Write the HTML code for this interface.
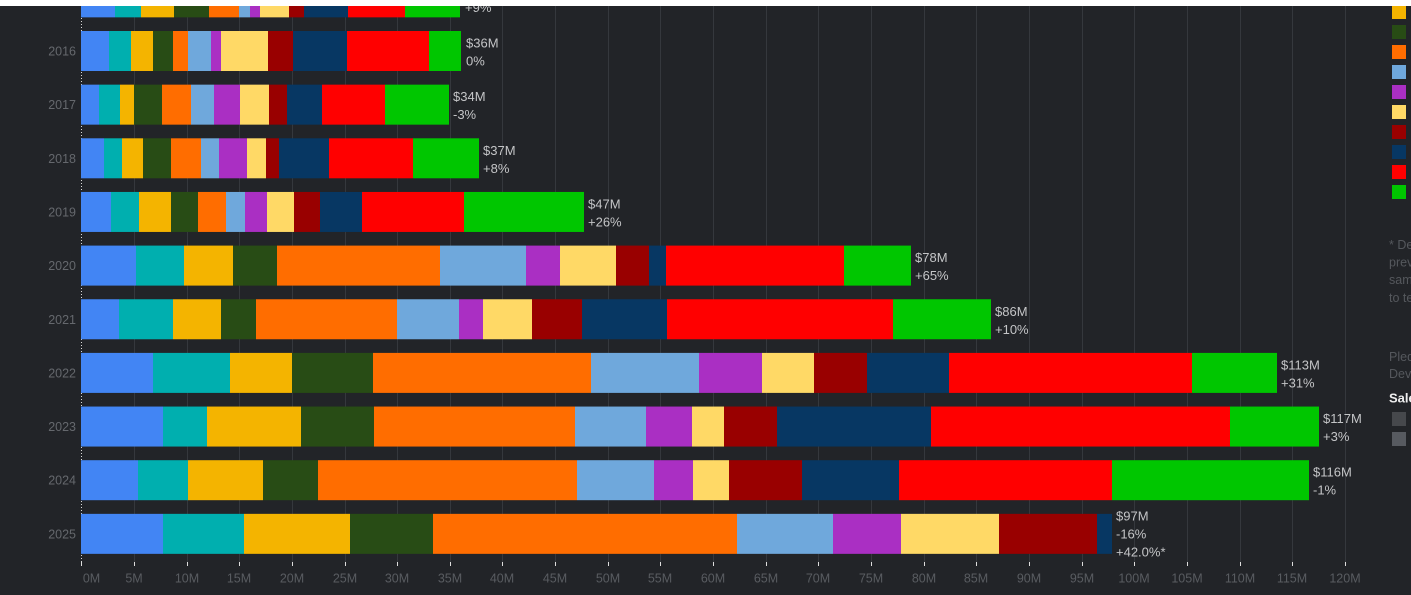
<!DOCTYPE html>
<html><head><meta charset="utf-8"><style>
html,body{margin:0;padding:0;width:1411px;height:595px;overflow:hidden;background:#222428;}
svg{display:block;font-family:"Liberation Sans",sans-serif;}
.yr{fill:#65686d;font-size:12.5px;text-anchor:end;}
.vl{fill:#c4c5c7;font-size:13px;}
.ax{fill:#595c61;font-size:12.5px;text-anchor:middle;}
.nt{fill:#55585d;font-size:12.5px;}
</style></head><body>
<svg width="1411" height="595" viewBox="0 0 1411 595" xmlns="http://www.w3.org/2000/svg">
<rect x="0" y="0" width="1411" height="595" fill="#222428"/>
<g fill="#35383d">
<rect x="134" y="6" width="1" height="556"/><rect x="187" y="6" width="1" height="556"/><rect x="239" y="6" width="1" height="556"/><rect x="292" y="6" width="1" height="556"/><rect x="345" y="6" width="1" height="556"/><rect x="397" y="6" width="1" height="556"/><rect x="450" y="6" width="1" height="556"/><rect x="502" y="6" width="1" height="556"/><rect x="555" y="6" width="1" height="556"/><rect x="608" y="6" width="1" height="556"/><rect x="660" y="6" width="1" height="556"/><rect x="713" y="6" width="1" height="556"/><rect x="766" y="6" width="1" height="556"/><rect x="818" y="6" width="1" height="556"/><rect x="871" y="6" width="1" height="556"/><rect x="924" y="6" width="1" height="556"/><rect x="976" y="6" width="1" height="556"/><rect x="1029" y="6" width="1" height="556"/><rect x="1082" y="6" width="1" height="556"/><rect x="1134" y="6" width="1" height="556"/><rect x="1187" y="6" width="1" height="556"/><rect x="1240" y="6" width="1" height="556"/><rect x="1292" y="6" width="1" height="556"/><rect x="1345" y="6" width="1" height="556"/>
</g>
<line x1="81.5" y1="6" x2="81.5" y2="566" stroke="#d8d8d8" stroke-width="1" stroke-dasharray="1 2"/>
<g fill="#dddddd">
<rect x="81" y="562" width="1" height="4"/><rect x="134" y="562" width="1" height="4"/><rect x="187" y="562" width="1" height="4"/><rect x="239" y="562" width="1" height="4"/><rect x="292" y="562" width="1" height="4"/><rect x="345" y="562" width="1" height="4"/><rect x="397" y="562" width="1" height="4"/><rect x="450" y="562" width="1" height="4"/><rect x="502" y="562" width="1" height="4"/><rect x="555" y="562" width="1" height="4"/><rect x="608" y="562" width="1" height="4"/><rect x="660" y="562" width="1" height="4"/><rect x="713" y="562" width="1" height="4"/><rect x="766" y="562" width="1" height="4"/><rect x="818" y="562" width="1" height="4"/><rect x="871" y="562" width="1" height="4"/><rect x="924" y="562" width="1" height="4"/><rect x="976" y="562" width="1" height="4"/><rect x="1029" y="562" width="1" height="4"/><rect x="1082" y="562" width="1" height="4"/><rect x="1134" y="562" width="1" height="4"/><rect x="1187" y="562" width="1" height="4"/><rect x="1240" y="562" width="1" height="4"/><rect x="1292" y="562" width="1" height="4"/><rect x="1345" y="562" width="1" height="4"/>
</g>

<!-- 2015 -->
<g transform="translate(0,-22.65)">
<rect x="81" y="0" width="34" height="40" fill="#4285f4"/><rect x="115" y="0" width="26" height="40" fill="#00afaf"/><rect x="141" y="0" width="33" height="40" fill="#f4b400"/><rect x="174" y="0" width="35" height="40" fill="#284c15"/><rect x="209" y="0" width="30" height="40" fill="#ff6d00"/><rect x="239" y="0" width="11" height="40" fill="#6fa8dc"/><rect x="250" y="0" width="10" height="40" fill="#aa2fc3"/><rect x="260" y="0" width="29" height="40" fill="#ffd966"/><rect x="289" y="0" width="15" height="40" fill="#990000"/><rect x="304" y="0" width="44" height="40" fill="#073763"/><rect x="348" y="0" width="57" height="40" fill="#ff0000"/><rect x="405" y="0" width="55" height="40" fill="#00c600"/>
<text class="vl" x="465" y="16.5">$33M</text><text class="vl" x="465" y="34.5">+9%</text>
</g>
<!-- 2016 -->
<g transform="translate(0,31)">
<rect x="81" y="0" width="28" height="40" fill="#4285f4"/><rect x="109" y="0" width="22" height="40" fill="#00afaf"/><rect x="131" y="0" width="22" height="40" fill="#f4b400"/><rect x="153" y="0" width="20" height="40" fill="#284c15"/><rect x="173" y="0" width="15" height="40" fill="#ff6d00"/><rect x="188" y="0" width="23" height="40" fill="#6fa8dc"/><rect x="211" y="0" width="10" height="40" fill="#aa2fc3"/><rect x="221" y="0" width="47" height="40" fill="#ffd966"/><rect x="268" y="0" width="25" height="40" fill="#990000"/><rect x="293" y="0" width="54" height="40" fill="#073763"/><rect x="347" y="0" width="82" height="40" fill="#ff0000"/><rect x="429" y="0" width="32" height="40" fill="#00c600"/>
<text class="yr" x="76" y="24.5">2016</text>
<text class="vl" x="466" y="16.5">$36M</text><text class="vl" x="466" y="34.5">0%</text>
</g>
<!-- 2017 -->
<g transform="translate(0,84.65)">
<rect x="81" y="0" width="18" height="40" fill="#4285f4"/><rect x="99" y="0" width="21" height="40" fill="#00afaf"/><rect x="120" y="0" width="14" height="40" fill="#f4b400"/><rect x="134" y="0" width="28" height="40" fill="#284c15"/><rect x="162" y="0" width="29" height="40" fill="#ff6d00"/><rect x="191" y="0" width="23" height="40" fill="#6fa8dc"/><rect x="214" y="0" width="26" height="40" fill="#aa2fc3"/><rect x="240" y="0" width="29" height="40" fill="#ffd966"/><rect x="269" y="0" width="18" height="40" fill="#990000"/><rect x="287" y="0" width="35" height="40" fill="#073763"/><rect x="322" y="0" width="63" height="40" fill="#ff0000"/><rect x="385" y="0" width="64" height="40" fill="#00c600"/>
<text class="yr" x="76" y="24.5">2017</text>
<text class="vl" x="453" y="16.5">$34M</text><text class="vl" x="453" y="34.5">-3%</text>
</g>
<!-- 2018 -->
<g transform="translate(0,138.3)">
<rect x="81" y="0" width="23" height="40" fill="#4285f4"/><rect x="104" y="0" width="18" height="40" fill="#00afaf"/><rect x="122" y="0" width="21" height="40" fill="#f4b400"/><rect x="143" y="0" width="28" height="40" fill="#284c15"/><rect x="171" y="0" width="30" height="40" fill="#ff6d00"/><rect x="201" y="0" width="18" height="40" fill="#6fa8dc"/><rect x="219" y="0" width="28" height="40" fill="#aa2fc3"/><rect x="247" y="0" width="19" height="40" fill="#ffd966"/><rect x="266" y="0" width="13" height="40" fill="#990000"/><rect x="279" y="0" width="50" height="40" fill="#073763"/><rect x="329" y="0" width="84" height="40" fill="#ff0000"/><rect x="413" y="0" width="66" height="40" fill="#00c600"/>
<text class="yr" x="76" y="24.5">2018</text>
<text class="vl" x="483" y="16.5">$37M</text><text class="vl" x="483" y="34.5">+8%</text>
</g>
<!-- 2019 -->
<g transform="translate(0,191.95)">
<rect x="81" y="0" width="30" height="40" fill="#4285f4"/><rect x="111" y="0" width="28" height="40" fill="#00afaf"/><rect x="139" y="0" width="32" height="40" fill="#f4b400"/><rect x="171" y="0" width="27" height="40" fill="#284c15"/><rect x="198" y="0" width="28" height="40" fill="#ff6d00"/><rect x="226" y="0" width="19" height="40" fill="#6fa8dc"/><rect x="245" y="0" width="22" height="40" fill="#aa2fc3"/><rect x="267" y="0" width="27" height="40" fill="#ffd966"/><rect x="294" y="0" width="26" height="40" fill="#990000"/><rect x="320" y="0" width="42" height="40" fill="#073763"/><rect x="362" y="0" width="102" height="40" fill="#ff0000"/><rect x="464" y="0" width="120" height="40" fill="#00c600"/>
<text class="yr" x="76" y="24.5">2019</text>
<text class="vl" x="588" y="16.5">$47M</text><text class="vl" x="588" y="34.5">+26%</text>
</g>
<!-- 2020 -->
<g transform="translate(0,245.6)">
<rect x="81" y="0" width="55" height="40" fill="#4285f4"/><rect x="136" y="0" width="48" height="40" fill="#00afaf"/><rect x="184" y="0" width="49" height="40" fill="#f4b400"/><rect x="233" y="0" width="44" height="40" fill="#284c15"/><rect x="277" y="0" width="163" height="40" fill="#ff6d00"/><rect x="440" y="0" width="86" height="40" fill="#6fa8dc"/><rect x="526" y="0" width="34" height="40" fill="#aa2fc3"/><rect x="560" y="0" width="56" height="40" fill="#ffd966"/><rect x="616" y="0" width="33" height="40" fill="#990000"/><rect x="649" y="0" width="17" height="40" fill="#073763"/><rect x="666" y="0" width="178" height="40" fill="#ff0000"/><rect x="844" y="0" width="67" height="40" fill="#00c600"/>
<text class="yr" x="76" y="24.5">2020</text>
<text class="vl" x="915" y="16.5">$78M</text><text class="vl" x="915" y="34.5">+65%</text>
</g>
<!-- 2021 -->
<g transform="translate(0,299.25)">
<rect x="81" y="0" width="38" height="40" fill="#4285f4"/><rect x="119" y="0" width="54" height="40" fill="#00afaf"/><rect x="173" y="0" width="48" height="40" fill="#f4b400"/><rect x="221" y="0" width="35" height="40" fill="#284c15"/><rect x="256" y="0" width="141" height="40" fill="#ff6d00"/><rect x="397" y="0" width="62" height="40" fill="#6fa8dc"/><rect x="459" y="0" width="24" height="40" fill="#aa2fc3"/><rect x="483" y="0" width="49" height="40" fill="#ffd966"/><rect x="532" y="0" width="50" height="40" fill="#990000"/><rect x="582" y="0" width="85" height="40" fill="#073763"/><rect x="667" y="0" width="226" height="40" fill="#ff0000"/><rect x="893" y="0" width="98" height="40" fill="#00c600"/>
<text class="yr" x="76" y="24.5">2021</text>
<text class="vl" x="995" y="16.5">$86M</text><text class="vl" x="995" y="34.5">+10%</text>
</g>
<!-- 2022 -->
<g transform="translate(0,352.9)">
<rect x="81" y="0" width="72" height="40" fill="#4285f4"/><rect x="153" y="0" width="77" height="40" fill="#00afaf"/><rect x="230" y="0" width="62" height="40" fill="#f4b400"/><rect x="292" y="0" width="81" height="40" fill="#284c15"/><rect x="373" y="0" width="218" height="40" fill="#ff6d00"/><rect x="591" y="0" width="108" height="40" fill="#6fa8dc"/><rect x="699" y="0" width="63" height="40" fill="#aa2fc3"/><rect x="762" y="0" width="52" height="40" fill="#ffd966"/><rect x="814" y="0" width="53" height="40" fill="#990000"/><rect x="867" y="0" width="82" height="40" fill="#073763"/><rect x="949" y="0" width="243" height="40" fill="#ff0000"/><rect x="1192" y="0" width="85" height="40" fill="#00c600"/>
<text class="yr" x="76" y="24.5">2022</text>
<text class="vl" x="1281" y="16.5">$113M</text><text class="vl" x="1281" y="34.5">+31%</text>
</g>
<!-- 2023 -->
<g transform="translate(0,406.55)">
<rect x="81" y="0" width="82" height="40" fill="#4285f4"/><rect x="163" y="0" width="44" height="40" fill="#00afaf"/><rect x="207" y="0" width="94" height="40" fill="#f4b400"/><rect x="301" y="0" width="73" height="40" fill="#284c15"/><rect x="374" y="0" width="201" height="40" fill="#ff6d00"/><rect x="575" y="0" width="71" height="40" fill="#6fa8dc"/><rect x="646" y="0" width="46" height="40" fill="#aa2fc3"/><rect x="692" y="0" width="32" height="40" fill="#ffd966"/><rect x="724" y="0" width="53" height="40" fill="#990000"/><rect x="777" y="0" width="154" height="40" fill="#073763"/><rect x="931" y="0" width="299" height="40" fill="#ff0000"/><rect x="1230" y="0" width="89" height="40" fill="#00c600"/>
<text class="yr" x="76" y="24.5">2023</text>
<text class="vl" x="1323" y="16.5">$117M</text><text class="vl" x="1323" y="34.5">+3%</text>
</g>
<!-- 2024 -->
<g transform="translate(0,460.2)">
<rect x="81" y="0" width="57" height="40" fill="#4285f4"/><rect x="138" y="0" width="50" height="40" fill="#00afaf"/><rect x="188" y="0" width="75" height="40" fill="#f4b400"/><rect x="263" y="0" width="55" height="40" fill="#284c15"/><rect x="318" y="0" width="259" height="40" fill="#ff6d00"/><rect x="577" y="0" width="77" height="40" fill="#6fa8dc"/><rect x="654" y="0" width="39" height="40" fill="#aa2fc3"/><rect x="693" y="0" width="36" height="40" fill="#ffd966"/><rect x="729" y="0" width="73" height="40" fill="#990000"/><rect x="802" y="0" width="97" height="40" fill="#073763"/><rect x="899" y="0" width="213" height="40" fill="#ff0000"/><rect x="1112" y="0" width="197" height="40" fill="#00c600"/>
<text class="yr" x="76" y="24.5">2024</text>
<text class="vl" x="1313" y="16.5">$116M</text><text class="vl" x="1313" y="34.5">-1%</text>
</g>
<!-- 2025 -->
<g transform="translate(0,513.85)">
<rect x="81" y="0" width="82" height="40" fill="#4285f4"/><rect x="163" y="0" width="81" height="40" fill="#00afaf"/><rect x="244" y="0" width="106" height="40" fill="#f4b400"/><rect x="350" y="0" width="83" height="40" fill="#284c15"/><rect x="433" y="0" width="304" height="40" fill="#ff6d00"/><rect x="737" y="0" width="96" height="40" fill="#6fa8dc"/><rect x="833" y="0" width="68" height="40" fill="#aa2fc3"/><rect x="901" y="0" width="98" height="40" fill="#ffd966"/><rect x="999" y="0" width="98" height="40" fill="#990000"/><rect x="1097" y="0" width="15" height="40" fill="#073763"/>
<text class="yr" x="76" y="24.5">2025</text>
<text class="vl" x="1116" y="6.5">$97M</text><text class="vl" x="1116" y="24.5">-16%</text><text class="vl" x="1116" y="42.5">+42.0%*</text>
</g>

<!-- axis labels -->
<text class="ax" x="91.5" y="582.5">0M</text>
<text class="ax" x="134" y="582.5">5M</text>
<text class="ax" x="187" y="582.5">10M</text>
<text class="ax" x="239" y="582.5">15M</text>
<text class="ax" x="292" y="582.5">20M</text>
<text class="ax" x="345" y="582.5">25M</text>
<text class="ax" x="397" y="582.5">30M</text>
<text class="ax" x="450" y="582.5">35M</text>
<text class="ax" x="502" y="582.5">40M</text>
<text class="ax" x="555" y="582.5">45M</text>
<text class="ax" x="608" y="582.5">50M</text>
<text class="ax" x="660" y="582.5">55M</text>
<text class="ax" x="713" y="582.5">60M</text>
<text class="ax" x="766" y="582.5">65M</text>
<text class="ax" x="818" y="582.5">70M</text>
<text class="ax" x="871" y="582.5">75M</text>
<text class="ax" x="924" y="582.5">80M</text>
<text class="ax" x="976" y="582.5">85M</text>
<text class="ax" x="1029" y="582.5">90M</text>
<text class="ax" x="1082" y="582.5">95M</text>
<text class="ax" x="1134" y="582.5">100M</text>
<text class="ax" x="1187" y="582.5">105M</text>
<text class="ax" x="1240" y="582.5">110M</text>
<text class="ax" x="1292" y="582.5">115M</text>
<text class="ax" x="1345" y="582.5">120M</text>

<!-- legend -->
<rect x="1392" y="-35" width="14" height="14" fill="#4285f4"/>
<rect x="1392" y="-15" width="14" height="14" fill="#00afaf"/>
<rect x="1392" y="5" width="14" height="14" fill="#f4b400"/>
<rect x="1392" y="25" width="14" height="14" fill="#284c15"/>
<rect x="1392" y="45" width="14" height="14" fill="#ff6d00"/>
<rect x="1392" y="65" width="14" height="14" fill="#6fa8dc"/>
<rect x="1392" y="85" width="14" height="14" fill="#aa2fc3"/>
<rect x="1392" y="105" width="14" height="14" fill="#ffd966"/>
<rect x="1392" y="125" width="14" height="14" fill="#990000"/>
<rect x="1392" y="145" width="14" height="14" fill="#073763"/>
<rect x="1392" y="165" width="14" height="14" fill="#ff0000"/>
<rect x="1392" y="185" width="14" height="14" fill="#00c600"/>

<text class="nt" x="1389" y="249">* Delta vs.</text>
<text class="nt" x="1389" y="266.5">previous year</text>
<text class="nt" x="1389" y="284">same period</text>
<text class="nt" x="1389" y="302">to teday</text>
<text class="nt" x="1389" y="361">Pledged</text>
<text class="nt" x="1389" y="378">Dev</text>
<text x="1389" y="402.5" fill="#eeeeee" font-size="13px" font-weight="bold">Sales</text>
<rect x="1392" y="412" width="14" height="14" fill="#46484c"/>
<rect x="1392" y="432" width="14" height="14" fill="#575a60"/>

<rect x="0" y="0" width="1411" height="6" fill="#ffffff"/>
</svg>
</body></html>
